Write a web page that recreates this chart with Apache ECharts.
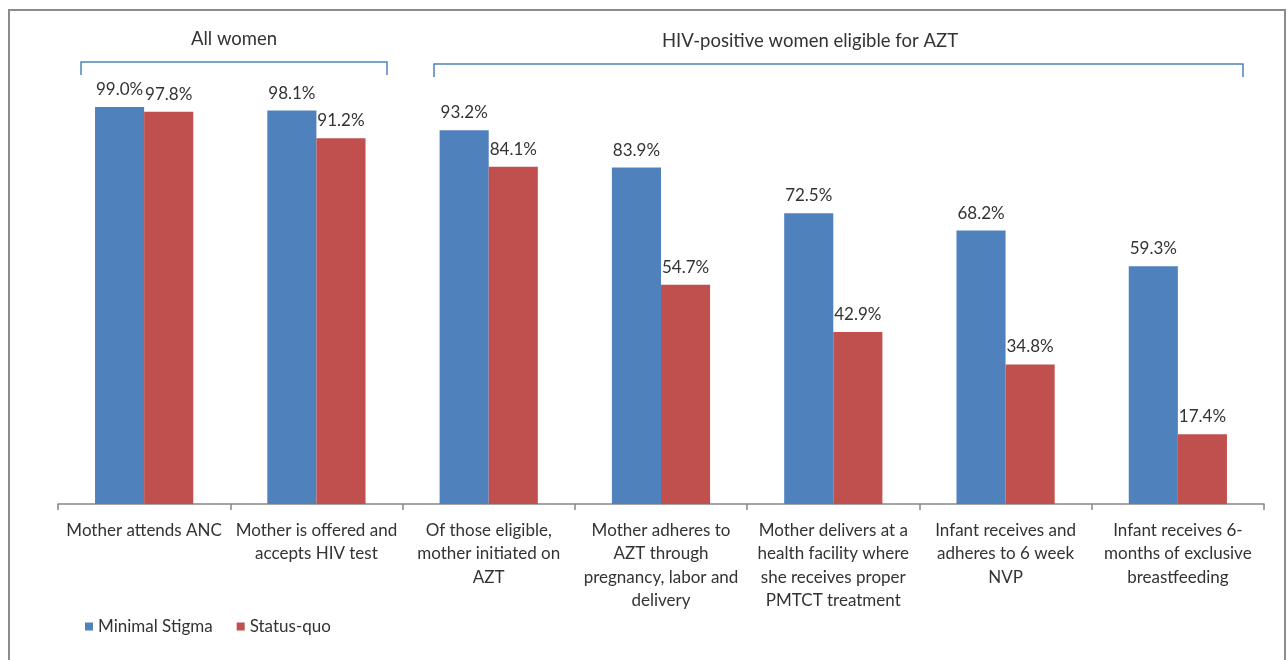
<!DOCTYPE html>
<html>
<head>
<meta charset="utf-8">
<script src="https://cdn.jsdelivr.net/npm/echarts@6/dist/echarts.min.js"></script>
<style>
  html, body { margin: 0; padding: 0; background: #fff; }
  #chart { width: 1287px; height: 660px; }
</style>
</head>
<body>
<div id="chart"></div>
<script>
// categories and values
var categories = [
  'Mother attends ANC',
  'Mother is offered and\naccepts HIV test',
  'Of those eligible,\nmother initiated on\nAZT',
  'Mother adheres to\nAZT through\npregnancy, labor and\ndelivery',
  'Mother delivers at a\nhealth facility where\nshe receives proper\nPMTCT treatment',
  'Infant receives and\nadheres to 6 week\nNVP',
  'Infant receives 6-\nmonths of exclusive\nbreastfeeding'
];
var minimalStigma = [99.0, 98.1, 93.2, 83.9, 72.5, 68.2, 59.3];
var statusQuo = [97.8, 91.2, 84.1, 54.7, 42.9, 34.8, 17.4];
var groupTitles = ['All women', 'HIV-positive women eligible for AZT'];

var font = 'Lato';
var textColor = '#333';
var bracketColor = '#4f81bd';

var chart = echarts.init(document.getElementById('chart'));

function bracket(x1, x2, y, drop) {
  return {
    type: 'polyline',
    shape: { points: [[x1, y + drop], [x1, y], [x2, y], [x2, y + drop]] },
    style: { stroke: bracketColor, lineWidth: 1.5, fill: null },
    silent: true
  };
}

function groupTitle(text, x, y) {
  return {
    type: 'text', x: x, y: y,
    style: { text: text, font: '18.5px ' + font, fill: textColor, align: 'center', verticalAlign: 'middle' },
    silent: true
  };
}

var valueLabel = {
  show: true,
  position: 'top',
  distance: 9,
  formatter: function (p) { return p.value.toFixed(1) + '%'; },
  fontFamily: font,
  fontSize: 17,
  color: textColor
};

var option = {
  animation: false,
  grid: { left: 58, right: 23, top: 103, bottom: 156 },
  legend: {
    left: 80,
    top: 613,
    itemWidth: 8,
    itemHeight: 8,
    itemGap: 24,
    icon: 'rect',
    textStyle: { fontFamily: font, fontSize: 17, color: textColor },
    data: ['Minimal Stigma', 'Status-quo']
  },
  xAxis: {
    type: 'category',
    data: categories,
    axisLine: { lineStyle: { color: '#868686', width: 1.5 } },
    axisTick: { show: true, length: 6, lineStyle: { color: '#868686', width: 1.5 } },
    axisLabel: {
      interval: 0,
      margin: 15,
      lineHeight: 23.3,
      fontFamily: font,
      fontSize: 17,
      color: textColor
    }
  },
  yAxis: {
    type: 'value',
    min: 0,
    max: 100,
    show: false,
    splitLine: { show: false }
  },
  series: [
    {
      name: 'Minimal Stigma',
      type: 'bar',
      data: minimalStigma,
      barGap: '0%',
      barCategoryGap: '43%',
      itemStyle: { color: '#4f81bd' },
      label: valueLabel
    },
    {
      name: 'Status-quo',
      type: 'bar',
      data: statusQuo,
      itemStyle: { color: '#c0504d' },
      label: valueLabel
    }
  ],
  graphic: [
    {
      type: 'rect',
      shape: { x: 9, y: 10, width: 1276, height: 660 },
      style: { stroke: '#8c8c8c', lineWidth: 2, fill: null },
      silent: true
    },
    groupTitle(groupTitles[0], 234, 39),
    groupTitle(groupTitles[1], 810, 41),
    bracket(81, 387, 62, 13),
    bracket(434, 1243, 64, 13)
  ]
};

chart.setOption(option);
</script>
</body>
</html>
